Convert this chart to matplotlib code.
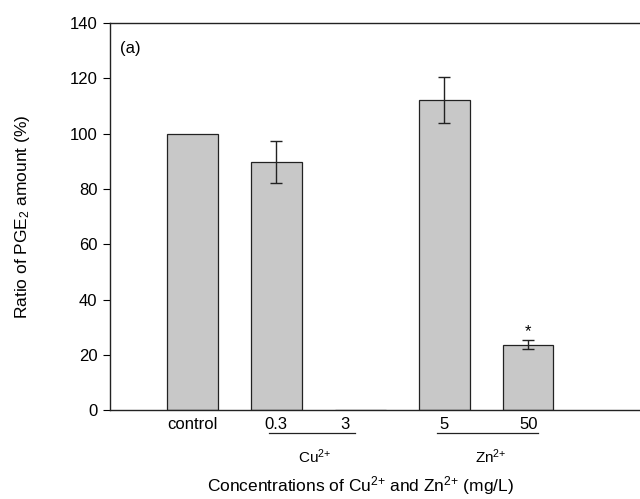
import numpy as np
import matplotlib; matplotlib.use("Agg")
import matplotlib.pyplot as plt
import matplotlib.transforms as mtransforms

plt.rcParams['font.family'] = ['Liberation Sans', 'DejaVu Sans']
plt.rcParams['mathtext.default'] = 'regular'

# --- data ---
labels = ['control', '0.3', '3', '5', '50']
ratio = [100.0, 89.7, 0.0, 112.0, 23.7]
err = [0.0, 7.5, 0.0, 8.3, 1.6]
groups = [('Cu$^{2{+}}$', 1, 2), ('Zn$^{2{+}}$', 3, 4)]
signif = [False, False, False, False, True]

fig = plt.figure(figsize=(6.4, 4.99), dpi=100)
ax = fig.add_axes([0.172, 0.178, 0.828, 0.776])

x = np.arange(len(labels))
ax.bar(x, ratio, width=0.6, color='#c8c8c8', edgecolor='#222222', lw=0.9, zorder=2)
for xi, v, e in zip(x, ratio, err):
    if e > 0:
        ax.errorbar(xi, v, yerr=e, fmt='none', ecolor='#222222', elinewidth=1.0,
                    capsize=4.5, capthick=1.0, zorder=3)
for xi, v, e, s in zip(x, ratio, err, signif):
    if s:
        ax.text(xi, v + e + 0.5, '*', ha='center', va='bottom', fontsize=12)

# the empty 3 mg/L slot keeps its label tucked in under the group line
xt = x.astype(float)
xt[2] -= 0.18

ax.set_xlim(-0.98, 5.33)
ax.set_ylim(0, 140)
ax.set_yticks(np.arange(0, 141, 20))
ax.set_xticks(xt)
ax.set_xticklabels(labels)
ax.tick_params(axis='x', length=0, pad=5, labelsize=12)
ax.tick_params(axis='y', direction='out', length=5, labelsize=12, pad=4)
ax.spines['right'].set_visible(False)
for s in ['left', 'top', 'bottom']:
    ax.spines[s].set_linewidth(1.0)
    ax.spines[s].set_color('#222222')

# group underlines and ion labels below the tick labels
trans = mtransforms.blended_transform_factory(ax.transData, ax.transAxes)
for name, a, b in groups:
    ax.plot([xt[a] - 0.09, xt[b] + 0.12], [-0.059, -0.059], color='#222222', lw=0.9,
            transform=trans, clip_on=False)
    ax.text((xt[a] + xt[b]) / 2 + 0.05, -0.119, name, transform=trans, ha='center',
            va='center', fontsize=11)

ax.text(0.018, 0.935, '(a)', transform=ax.transAxes, fontsize=12, va='center')
ax.set_ylabel('Ratio of PGE$_2$ amount (%)', fontsize=12.5)
ax.set_xlabel('Concentrations of Cu$^{2{+}}$ and Zn$^{2{+}}$ (mg/L)', fontsize=12.5)
ax.xaxis.set_label_coords(0.472, -0.165)
ax.yaxis.set_label_coords(-0.148, 0.5)

fig.savefig('out.png', dpi=100)
